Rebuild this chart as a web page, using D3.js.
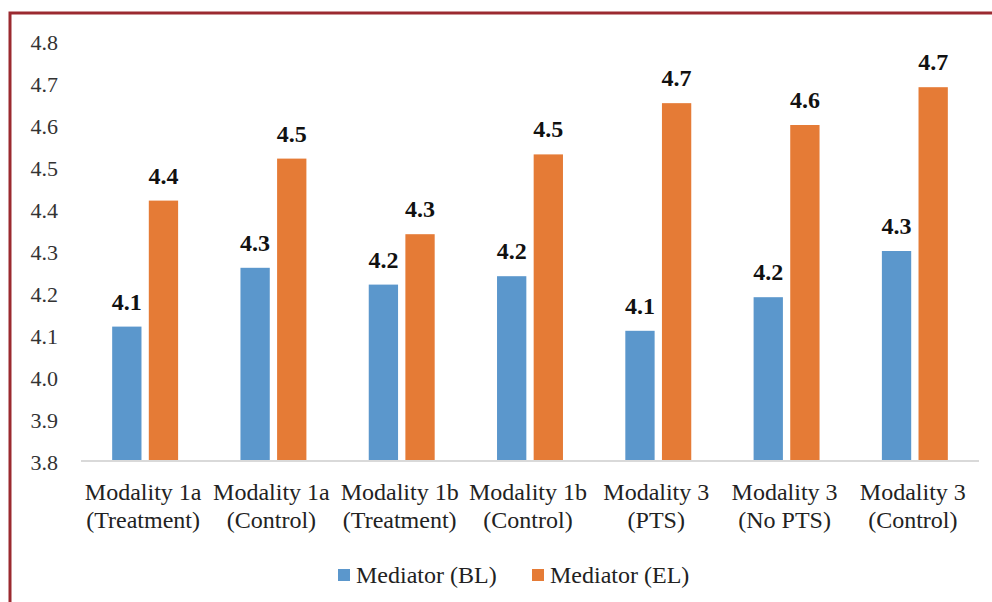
<!DOCTYPE html>
<html>
<head>
<meta charset="utf-8">
<script src="https://cdn.jsdelivr.net/npm/d3@7"></script>
</head>
<body style="margin:0; background:#fff">
<div class="chart"></div>
<script>
// data
var categories = [
  ['Modality 1a', '(Treatment)'],
  ['Modality 1a', '(Control)'],
  ['Modality 1b', '(Treatment)'],
  ['Modality 1b', '(Control)'],
  ['Modality 3', '(PTS)'],
  ['Modality 3', '(No PTS)'],
  ['Modality 3', '(Control)']
];
var seriesNames = ['Mediator (BL)', 'Mediator (EL)'];
var baseline = [4.12, 4.26, 4.22, 4.24, 4.11, 4.19, 4.30];
var endline = [4.42, 4.52, 4.34, 4.53, 4.652, 4.60, 4.69];
var yTicks = [3.8, 3.9, 4.0, 4.1, 4.2, 4.3, 4.4, 4.5, 4.6, 4.7, 4.8];
var colors = ['#5B97CC', '#E57B36'];

var width = 992, height = 602;
var plot = { left: 81, right: 979, top: 41, bottom: 461 };
var serif = 'Liberation Serif';

var svg = d3.select('.chart')
  .append('svg')
    .attr('width', width)
    .attr('height', height)
    .attr('font-family', serif);

// dark red frame (clipped on right/bottom)
svg.append('path')
  .attr('d', 'M10,' + height + ' V13 H' + width)
  .attr('fill', 'none')
  .attr('stroke', '#9B2A30')
  .attr('stroke-width', 3);

var keys = categories.map(function (c, i) { return i; });

var x0 = d3.scaleBand()
  .domain(keys)
  .range([plot.left, plot.right])
  .paddingInner(0.486)
  .paddingOuter(0.243);

var x1 = d3.scaleBand()
  .domain([0, 1])
  .range([0, x0.bandwidth()])
  .paddingInner(0.2);

var y = d3.scaleLinear()
  .domain([3.8, 4.8])
  .range([plot.bottom, plot.top]);

// y axis labels only
var yAxis = svg.append('g')
  .attr('transform', 'translate(' + plot.left + ',0)')
  .call(d3.axisLeft(y).tickValues(yTicks).tickFormat(d3.format('.1f')).tickSize(0).tickPadding(23))
  .attr('font-family', serif)
  .attr('font-size', 22);
yAxis.select('.domain').remove();
yAxis.selectAll('text')
  .attr('fill', '#333')
  .attr('dy', '0.4em')
  .attr('font-family', serif);

// bars
var rows = keys.map(function (i) {
  return [
    { cat: i, s: 0, v: baseline[i] },
    { cat: i, s: 1, v: endline[i] }
  ];
});

var groups = svg.selectAll('.grp')
  .data(rows)
  .enter()
  .append('g')
    .attr('class', 'grp')
    .attr('transform', function (d, i) { return 'translate(' + x0(i) + ',0)'; });

groups.selectAll('rect')
  .data(function (d) { return d; })
  .enter()
  .append('rect')
    .attr('x', function (d) { return x1(d.s); })
    .attr('y', function (d) { return y(d.v); })
    .attr('width', x1.bandwidth())
    .attr('height', function (d) { return y(3.8) - y(d.v); })
    .attr('fill', function (d) { return colors[d.s]; });

groups.selectAll('.lbl')
  .data(function (d) { return d; })
  .enter()
  .append('text')
    .attr('class', 'lbl')
    .attr('x', function (d) { return x1(d.s) + x1.bandwidth() / 2; })
    .attr('y', function (d) { return y(d.v) - 17; })
    .attr('text-anchor', 'middle')
    .attr('font-family', serif)
    .attr('font-size', 24)
    .attr('font-weight', 'bold')
    .attr('fill', '#111')
    .text(function (d) { return d3.format('.1f')(d.v); });

// x axis line
svg.append('line')
  .attr('x1', plot.left)
  .attr('x2', plot.right)
  .attr('y1', y(3.8))
  .attr('y2', y(3.8))
  .attr('stroke', '#D9D9D9')
  .attr('stroke-width', 2);

// category labels (two lines)
var cat = svg.selectAll('.cat')
  .data(categories)
  .enter()
  .append('text')
    .attr('class', 'cat')
    .attr('text-anchor', 'middle')
    .attr('font-family', serif)
    .attr('font-size', 24)
    .attr('fill', '#222')
    .attr('transform', function (d, i) { return 'translate(' + (x0(i) + x0.bandwidth() / 2 - 2) + ',0)'; });

cat.append('tspan').attr('x', 0).attr('y', 500).text(function (d) { return d[0]; });
cat.append('tspan').attr('x', 0).attr('y', 528).text(function (d) { return d[1]; });

// legend
var legendX = [338, 532];
var legend = svg.selectAll('.leg')
  .data(seriesNames)
  .enter()
  .append('g')
    .attr('class', 'leg')
    .attr('transform', function (d, i) { return 'translate(' + legendX[i] + ',569)'; });

legend.append('rect')
  .attr('width', 12)
  .attr('height', 12)
  .attr('fill', function (d, i) { return colors[i]; });

legend.append('text')
  .attr('x', 18)
  .attr('y', 14)
  .attr('font-family', serif)
  .attr('font-size', 24)
  .attr('fill', '#222')
  .text(function (d) { return d; });
</script>
</body>
</html>
